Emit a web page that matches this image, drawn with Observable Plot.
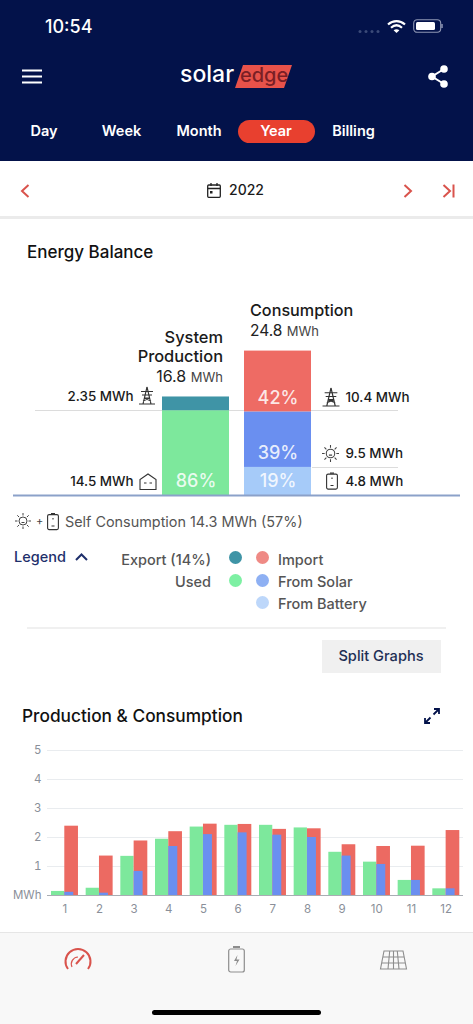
<!DOCTYPE html>
<html><head><meta charset="utf-8">
<script src="https://cdn.jsdelivr.net/npm/d3@7"></script>
<script src="https://cdn.jsdelivr.net/npm/@observablehq/plot@0.6"></script>
<style>
html,body{margin:0;padding:0;background:#fff;width:473px;height:1024px;overflow:hidden;font-family:Inter,"Noto Sans",sans-serif}
#page{position:relative;width:473px;height:1024px;overflow:hidden}
.a{position:absolute}
.t{position:absolute;white-space:nowrap;line-height:1.2;transform:translateY(-50%)}
svg.i{position:absolute;overflow:visible}
</style>
<script>
// ---- data ----
const balanceBars = ["System Production","System Production","Consumption","Consumption","Consumption"];
const balanceSegments = ["Used","Export","From Battery","From Solar","Import"];
const balanceValues = [14.5,2.35,4.8,9.5,10.4];
const balanceShares = ["86%","","19%","39%","42%"];
const balanceColors = ["#7de89c","#3f94a6","#a6cbf9","#6a8ff0","#ee6b64"];
const balanceNotes = ["14.5 MWh","2.35 MWh","4.8 MWh","9.5 MWh","10.4 MWh"];

const months = [1,2,3,4,5,6,7,8,9,10,11,12];
const used = [0.14,0.25,1.35,1.94,2.36,2.42,2.42,2.33,1.49,1.15,0.52,0.23];
const consumption = [2.39,1.36,1.88,2.2,2.46,2.45,2.28,2.3,1.75,1.69,1.7,2.24];
const fromSolar = [0.11,0.08,0.83,1.69,2.1,2.16,2.08,2.0,1.36,1.07,0.52,0.23];
const yTicks = [0,1,2,3,4,5];

document.addEventListener("DOMContentLoaded",()=>{
// ---- helpers ----
const page = document.getElementById("page");
function box(x,y,w,h,bg,extra=""){const d=document.createElement("div");d.className="a";d.style.cssText=`left:${x}px;top:${y}px;width:${w}px;height:${h}px;background:${bg};${extra}`;page.appendChild(d);return d;}
function txt(s,x,y,size,color,weight=400,anchor="left"){const d=document.createElement("div");d.className="t";d.innerHTML=s;
 const pos=anchor==="right"?`right:${473-x}px`:anchor==="center"?`left:${x}px;transform:translate(-50%,-50%)`:`left:${x}px`;
 d.style.cssText=`${pos};top:${y}px;font-size:${size}px;color:${color};font-weight:${weight}`;page.appendChild(d);return d;}
function icon(x,y,w,h,inner,vb){const n=document.createElement("div");n.innerHTML=`<svg class="i" style="left:${x}px;top:${y}px" width="${w}" height="${h}" viewBox="${vb||`0 0 ${w} ${h}`}" fill="none">${inner}</svg>`;page.appendChild(n.firstChild);}
const tower=c=>`<g stroke="${c}" stroke-width="1.1"><path d="M8 0L4 17M8 0L12 17M2 4.5H14M3 8H13M5 11H11M4 14L11 11M12 14L5 11M0 17H16"/></g>`;
const sun=(c)=>`<g stroke="${c}" stroke-width="1"><circle cx="8" cy="8" r="4"/><path d="M8 0V2.5M8 13.5V16M0 8H2.5M13.5 8H16M2.3 2.3L4.1 4.1M11.9 11.9L13.7 13.7M2.3 13.7L4.1 11.9M11.9 4.1L13.7 2.3M6.5 9.5H9.5"/></g>`;
const batt=(c)=>`<g stroke="${c}" stroke-width="1.1"><rect x="0.6" y="1.6" width="10.8" height="15" rx="1.5"/><path d="M4 .6H8M6 5V6.5M4.5 13H7.5"/></g>`;

// ---- header ----
box(0,0,473,161,"#03124a");
txt("10:54",45,27,18,"#fff",500);
icon(358,29,24,5,`<g fill="#3b4a78"><circle cx="2" cy="2.5" r="1.5"/><circle cx="8" cy="2.5" r="1.5"/><circle cx="14" cy="2.5" r="1.5"/><circle cx="20" cy="2.5" r="1.5"/></g>`);
icon(387,19,19,15,`<path d="M1 5.5C6 1 13 1 18 5.5M4 8.7C7.5 5.6 11.5 5.6 15 8.7" stroke="#fff" stroke-width="2.2"/><path d="M9.5 14L6.6 11.2C8.4 9.8 10.6 9.8 12.4 11.2Z" fill="#fff"/>`);
icon(413,19,31,15,`<rect x=".7" y=".7" width="27" height="12.6" rx="3.5" stroke="#8f97b4" stroke-width="1.1"/><rect x="3" y="3" width="19" height="8" rx="1.5" fill="#fff"/><path d="M29 5V9" stroke="#8f97b4" stroke-width="1.5"/>`);
icon(22,69,20,15,`<path d="M0 1.5H20M0 7.5H20M0 13.5H20" stroke="#fff" stroke-width="2"/>`);
icon(428,65,20,23,`<g stroke="#fff" stroke-width="2"><path d="M16 4L4 11.5L16 19"/></g><g fill="#fff"><circle cx="16" cy="4" r="3.8"/><circle cx="4" cy="11.5" r="3.8"/><circle cx="16" cy="19" r="3.8"/></g>`);
icon(235,64,57,24,`<path d="M8 1H57L49 24H0Z" fill="#e8524a"/>`);
txt("solar",180,75,23,"#fff",500);
txt("edge",240,75,20,"#7a1f25",500);
["Day","Week","Month","Billing"].forEach((s,i)=>txt(s,[44,121.5,199,353.5][i],131,14.5,"#fff",600,"center"));
box(238,120,77,23,"#e8402f","border-radius:12px");
txt("Year",276,131,14.5,"#fff",600,"center");

// ---- date row ----
box(0,216,473,3,"#ebebeb");
const red="#d9534c";
icon(20,184,10,14,`<path d="M8.5 1L2 7L8.5 13" stroke="${red}" stroke-width="2"/>`);
icon(403,184,10,14,`<path d="M1.5 1L8 7L1.5 13" stroke="${red}" stroke-width="2"/>`);
icon(442,184,13,14,`<path d="M1.5 1L8 7L1.5 13M11.5 0.5V13.5" stroke="${red}" stroke-width="2"/>`);
icon(207,183,14,15,`<rect x=".7" y="2" width="12.6" height="12.3" rx="1" stroke="#222" stroke-width="1.3"/><path d="M.7 5.5H13.3M4 0V3M10 0V3" stroke="#222" stroke-width="1.3"/><rect x="3" y="8" width="2.5" height="2.5" fill="#222"/>`);
txt("2022",229,190,14,"#1a1a1a",500);
txt("Energy Balance",27,252,17,"#111",500);

// ---- balance annotations behind chart ----
box(35,410,363,1,"#dcdcdc");
box(312,467,86,1,"#dcdcdc");
txt("System",223,338,16.4,"#1a1a1a",500,"right");
txt("Production",223,357,16.4,"#1a1a1a",500,"right");
txt(`16.8 <span style="font-size:13px;color:#444">MWh</span>`,223,377,16,"#222",400,"right");
txt("Consumption",250,311,16.2,"#1a1a1a",500);
txt(`24.8 <span style="font-size:13px;color:#444">MWh</span>`,250,331,15.5,"#222",400);

// ---- balance chart ----
let acc = {};
const balance = balanceSegments.map((segment,i)=>{
  const bar = balanceBars[i], base = acc[bar]||0;
  acc[bar] = base + balanceValues[i];
  return {bar,segment,value:balanceValues[i],base,share:balanceShares[i],color:balanceColors[i],note:balanceNotes[i]};
});
const balancePlot = Plot.plot({
  width:473,height:220,marginLeft:13,marginRight:13,marginTop:0,marginBottom:15,
  style:{background:"transparent",fontFamily:"Inter"},
  x:{type:"band",domain:["System Production","Consumption"],range:[162,311],paddingInner:0.183,paddingOuter:0,round:false,axis:null},
  y:{domain:[0,24.8],range:[205,60],axis:null},
  marks:[
    Plot.barY(balance,{x:"bar",y:"value",fill:"color"}),
    Plot.ruleY([0],{stroke:"#8ba1c9",strokeWidth:2}),
    Plot.text(balance,{x:"bar",y:"base",text:"share",dy:-14,fill:"#fff",fillOpacity:0.85,fontSize:18,fontWeight:500}),
    Plot.text(balance.filter(d=>d.bar==="System Production"),{x:"bar",y:"base",text:"note",dy:-14,dx:-62.5,textAnchor:"end",fill:"#1a1a1a",fontSize:13.4,fontWeight:500}),
    Plot.text(balance.filter(d=>d.bar==="Consumption"),{x:"bar",y:"base",text:"note",dy:-14,dx:67.5,textAnchor:"start",fill:"#1a1a1a",fontSize:13.4,fontWeight:500})
  ]
});
balancePlot.style.position="absolute";balancePlot.style.left="0";balancePlot.style.top="290px";
page.appendChild(balancePlot);

icon(139,387,16,17,tower("#333"));
icon(322,388,18,18,tower("#333"),"0 0 16 17");
icon(322,445,17,17,sun("#444"),"0 0 16 16");
icon(326,472,12,19,batt("#333"),"0 0 12 18");
icon(139,473,18,18,`<path d="M1 16.5V6.5L9 1L17 6.5V16.5H1Z M5 10H7.5M10.5 10H13" stroke="#333" stroke-width="1.1"/>`);

// ---- self consumption + legend ----
icon(15,513,16,16,sun("#444"));
txt("+",36,522,11,"#444");
icon(47,513,12,18,batt("#333"),"0 0 12 18");
txt("Self Consumption 14.3 MWh (57%)",65,522,14.4,"#555");
txt("Legend",14,557,14.5,"#1e2f6b",500);
icon(75,553,13,8,`<path d="M1 7L6.5 1.5L12 7" stroke="#1e2f6b" stroke-width="2"/>`);
txt("Export (14%)",211,559.5,14.5,"#555",500,"right");
txt("Used",211,582,14.5,"#555",500,"right");
txt("Import",278,559.5,14.5,"#555",500);
txt("From Solar",278,582,14.5,"#555",500);
txt("From Battery",278,604,14.5,"#555",500);
[[235.5,557,"#3f94a6"],[262,557,"#ef8a85"],[235.5,580,"#7df0a3"],[262,580,"#8eb0f3"],[262,602,"#bdd7fa"]].forEach(([x,y,c])=>box(x-6.5,y-6.5,13,13,c,"border-radius:50%"));
box(27,627,419,1.5,"#f0f0f0");
box(322,640,119,33,"#f0f0f0");
txt("Split Graphs",381,657,14.6,"#1e2f55",500,"center");
txt("Production &amp; Consumption",22,716,17.3,"#111",500);
icon(424,708,16,16,`<path d="M9.5 6.5L15 1M10 1H15V6M6.5 9.5L1 15M1 10V15H6" stroke="#03124a" stroke-width="1.8"/>`);

// ---- production & consumption chart ----
const rows = months.map((m,i)=>({month:m,used:used[i],consumption:consumption[i],fromSolar:fromSolar[i]}));
const monthly = Plot.plot({
  width:473,height:190,marginLeft:47,marginRight:10,marginTop:15,marginBottom:30,
  style:{background:"transparent",fontFamily:"Inter",fontSize:"11.5px",color:"#8a8f99"},
  x:{type:"band",domain:months,range:[47,463],paddingInner:0,paddingOuter:0,align:0.5,round:false,label:null},
  y:{domain:[0,5],ticks:yTicks,label:null},
  marks:[
    Plot.gridY(yTicks,{stroke:"#e9ecef",strokeOpacity:1}),
    Plot.axisY(yTicks,{tickSize:0,tickPadding:6,label:null,fontSize:11.5,fill:"#8a8f99",tickFormat:d=>d===0?"MWh":String(d)}),
    Plot.axisX({tickSize:0,tickPadding:9,label:null,fontSize:11.5,fill:"#8a8f99"}),
    Plot.barY(rows,{x:"month",y:"used",fill:"#7de89c",insetLeft:4,insetRight:17.4}),
    Plot.barY(rows,{x:"month",y:"consumption",fill:"#ec6a62",insetLeft:17.3,insetRight:3.7}),
    Plot.barY(rows,{x:"month",y:"fromSolar",fill:"#6a8ff0",insetLeft:17.3,insetRight:8.4}),
    Plot.ruleY([0],{stroke:"#a9adb3",strokeWidth:1})
  ]
});
monthly.style.position="absolute";monthly.style.left="0";monthly.style.top="735px";
page.appendChild(monthly);

// ---- footer ----
box(0,932,473,92,"#f8f8f8","border-top:1px solid #e6e6e6;box-sizing:border-box");
icon(64,949,28,21,`<path d="M4 20A12.5 12.5 0 1 1 24 20" stroke="${red}" stroke-width="2"/><path d="M8 18A7 7 0 0 1 14 8" stroke="${red}" stroke-width="1.2"/><path d="M12 15L20 6" stroke="${red}" stroke-width="2"/>`);
icon(228,946,17,27,`<rect x=".7" y="3" width="15.6" height="23" rx="2" stroke="#8d8d8d" stroke-width="1.2"/><path d="M5 1H12" stroke="#8d8d8d" stroke-width="2"/><path d="M9.5 9L6 15H9L7.5 20L11.5 13.5H8.5Z" fill="#8d8d8d"/>`);
icon(380,950,27,20,`<g stroke="#8d8d8d" stroke-width="1.1"><path d="M4 1H23L26.5 19H.5ZM3 7H24M1.8 13H25.2M9.7 1L8 19M17.3 1L19 19M13.5 1V19"/></g>`);
box(152,1010,169,5,"#000","border-radius:3px");
});
</script>
</head><body><div id="page"></div></body></html>
